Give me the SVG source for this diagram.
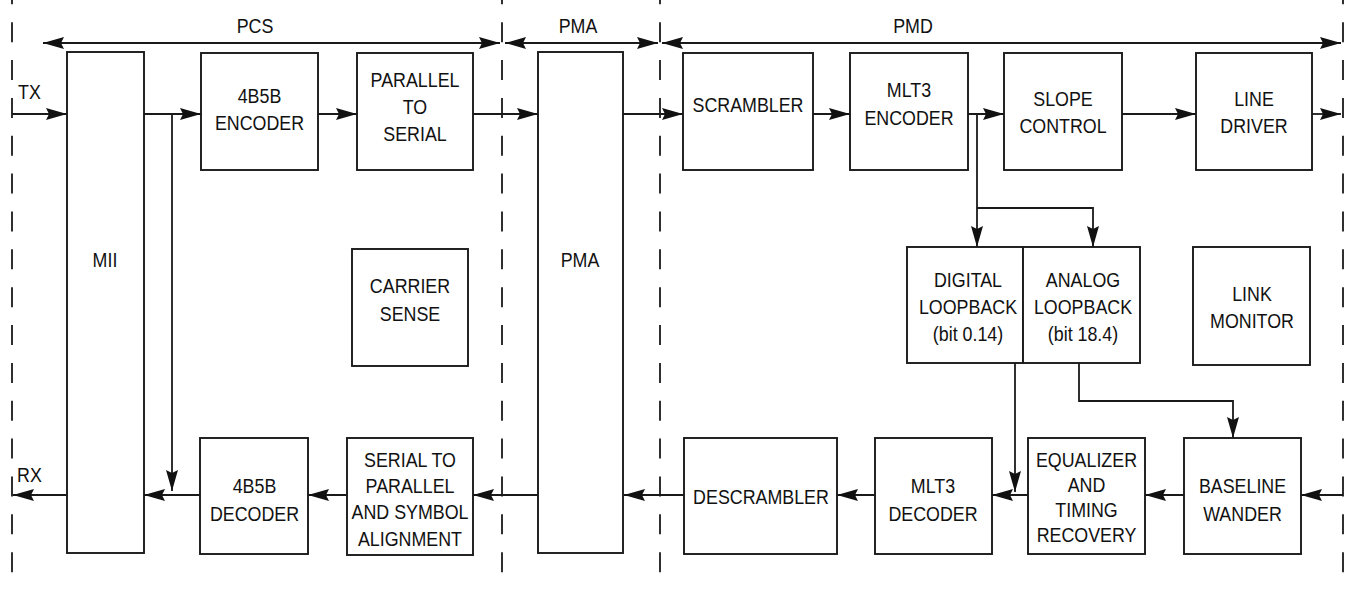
<svg xmlns="http://www.w3.org/2000/svg" width="1345" height="590" viewBox="0 0 1345 590">
<defs>
<style>
.bx{fill:#fff;stroke:#1a1a1a;stroke-width:1.9}
.cn{fill:none;stroke:#1a1a1a;stroke-width:1.8}
.ds{fill:none;stroke:#1a1a1a;stroke-width:1.8;stroke-dasharray:20 17.86;stroke-dashoffset:15.7}
.t{font-family:"Liberation Sans",Arial,sans-serif;font-size:21px;fill:#111;text-anchor:middle}
.ts{font-family:"Liberation Sans",Arial,sans-serif;font-size:21px;fill:#111;text-anchor:start}
</style>
<marker id="ah" viewBox="0 0 21 12" markerWidth="21" markerHeight="12" refX="21" refY="6" orient="auto-start-reverse" markerUnits="userSpaceOnUse">
<path d="M0,0 L21,6 L0,12 L3,6 z" fill="#111"/>
</marker>
</defs>
<rect width="1345" height="590" fill="#fff"/>

<g id="boundaries">
<line class="ds" x1="12" y1="0" x2="12" y2="590"/>
<line class="ds" x1="502" y1="0" x2="502" y2="590"/>
<line class="ds" x1="660" y1="0" x2="660" y2="590"/>
<line class="ds" x1="1343" y1="0" x2="1343" y2="590"/>
</g>

<g id="labels">
<text class="t" transform="translate(255 0) scale(0.85 1)"><tspan x="0" y="33">PCS</tspan></text>
<text class="t" transform="translate(578 0) scale(0.85 1)"><tspan x="0" y="33">PMA</tspan></text>
<text class="t" transform="translate(913 0) scale(0.85 1)"><tspan x="0" y="33">PMD</tspan></text>
<text class="ts" transform="translate(18 0) scale(0.85 1)"><tspan x="0" y="99">TX</tspan></text>
<text class="ts" transform="translate(17 0) scale(0.85 1)"><tspan x="0" y="482">RX</tspan></text>
</g>

<g id="connectors">
<line class="cn" x1="43" y1="43" x2="500" y2="43" marker-start="url(#ah)" marker-end="url(#ah)"/>
<line class="cn" x1="505" y1="43" x2="658" y2="43" marker-start="url(#ah)" marker-end="url(#ah)"/>
<line class="cn" x1="662" y1="43" x2="1341" y2="43" marker-start="url(#ah)" marker-end="url(#ah)"/>
<path class="cn" d="M12,114 H67" marker-end="url(#ah)"/>
<path class="cn" d="M144,114 H201" marker-end="url(#ah)"/>
<path class="cn" d="M172,114 V491" marker-end="url(#ah)"/>
<path class="cn" d="M318,114 H357" marker-end="url(#ah)"/>
<path class="cn" d="M473,114 H538" marker-end="url(#ah)"/>
<path class="cn" d="M623,114 H683" marker-end="url(#ah)"/>
<path class="cn" d="M813,114 H850" marker-end="url(#ah)"/>
<path class="cn" d="M968,114 H1004" marker-end="url(#ah)"/>
<path class="cn" d="M977,114 V247" marker-end="url(#ah)"/>
<path class="cn" d="M977,208 H1093 V247" marker-end="url(#ah)"/>
<path class="cn" d="M1122,114 H1196" marker-end="url(#ah)"/>
<path class="cn" d="M1312,114 H1341" marker-end="url(#ah)"/>
<path class="cn" d="M1343,495 H1301" marker-end="url(#ah)"/>
<path class="cn" d="M1184,495 H1145" marker-end="url(#ah)"/>
<path class="cn" d="M1028,495 H992" marker-end="url(#ah)"/>
<path class="cn" d="M1015,363 V492" marker-end="url(#ah)"/>
<path class="cn" d="M1079,363 V401 H1233 V438" marker-end="url(#ah)"/>
<path class="cn" d="M875,495 H837" marker-end="url(#ah)"/>
<path class="cn" d="M684,495 H624" marker-end="url(#ah)"/>
<path class="cn" d="M538,495 H473" marker-end="url(#ah)"/>
<path class="cn" d="M347,495 H308" marker-end="url(#ah)"/>
<path class="cn" d="M201,495 H144" marker-end="url(#ah)"/>
<path class="cn" d="M67,495 H13" marker-end="url(#ah)"/>
</g>

<g id="mii">
<rect class="bx" x="67" y="52" width="77" height="501"/>
<text class="t" transform="translate(105 0) scale(0.85 1)"><tspan x="0" y="267">MII</tspan></text>
</g>
<g id="enc4b5b">
<rect class="bx" x="201" y="53" width="117" height="117"/>
<text class="t" transform="translate(259.5 0) scale(0.85 1)"><tspan x="0" y="103">4B5B</tspan><tspan x="0" y="130">ENCODER</tspan></text>
</g>
<g id="p2s">
<rect class="bx" x="357" y="53" width="116" height="117"/>
<text class="t" transform="translate(415 0) scale(0.85 1)"><tspan x="0" y="87">PARALLEL</tspan><tspan x="0" y="114">TO</tspan><tspan x="0" y="141">SERIAL</tspan></text>
</g>
<g id="carrier">
<rect class="bx" x="352" y="249" width="116" height="117"/>
<text class="t" transform="translate(410 0) scale(0.85 1)"><tspan x="0" y="293">CARRIER</tspan><tspan x="0" y="321">SENSE</tspan></text>
</g>
<g id="pma">
<rect class="bx" x="538" y="52" width="85" height="501"/>
<text class="t" transform="translate(580 0) scale(0.85 1)"><tspan x="0" y="267">PMA</tspan></text>
</g>
<g id="scrambler">
<rect class="bx" x="683" y="53" width="130" height="117"/>
<text class="t" transform="translate(748 0) scale(0.85 1)"><tspan x="0" y="112">SCRAMBLER</tspan></text>
</g>
<g id="mlt3enc">
<rect class="bx" x="850" y="53" width="118" height="117"/>
<text class="t" transform="translate(909 0) scale(0.85 1)"><tspan x="0" y="97">MLT3</tspan><tspan x="0" y="125">ENCODER</tspan></text>
</g>
<g id="slope">
<rect class="bx" x="1004" y="53" width="118" height="117"/>
<text class="t" transform="translate(1063 0) scale(0.85 1)"><tspan x="0" y="106">SLOPE</tspan><tspan x="0" y="133">CONTROL</tspan></text>
</g>
<g id="linedriver">
<rect class="bx" x="1196" y="53" width="116" height="117"/>
<text class="t" transform="translate(1254 0) scale(0.85 1)"><tspan x="0" y="106">LINE</tspan><tspan x="0" y="133">DRIVER</tspan></text>
</g>
<g id="digloop">
<rect class="bx" x="907" y="247" width="116" height="116"/>
<text class="t" transform="translate(968 0) scale(0.85 1)"><tspan x="0" y="287">DIGITAL</tspan><tspan x="0" y="314">LOOPBACK</tspan><tspan x="0" y="341">(bit 0.14)</tspan></text>
</g>
<g id="anaLoop">
<rect class="bx" x="1023" y="247" width="117" height="116"/>
<text class="t" transform="translate(1083 0) scale(0.85 1)"><tspan x="0" y="287">ANALOG</tspan><tspan x="0" y="314">LOOPBACK</tspan><tspan x="0" y="341">(bit 18.4)</tspan></text>
</g>
<g id="linkmon">
<rect class="bx" x="1193" y="247" width="117" height="118"/>
<text class="t" transform="translate(1252 0) scale(0.85 1)"><tspan x="0" y="301">LINK</tspan><tspan x="0" y="328">MONITOR</tspan></text>
</g>
<g id="dec4b5b">
<rect class="bx" x="200" y="438" width="108" height="116"/>
<text class="t" transform="translate(254.5 0) scale(0.85 1)"><tspan x="0" y="493">4B5B</tspan><tspan x="0" y="521">DECODER</tspan></text>
</g>
<g id="s2p">
<rect class="bx" x="347" y="438" width="126" height="117"/>
<text class="t" transform="translate(410 0) scale(0.85 1)"><tspan x="0" y="467">SERIAL TO</tspan><tspan x="0" y="493">PARALLEL</tspan><tspan x="0" y="519">AND SYMBOL</tspan><tspan x="0" y="546">ALIGNMENT</tspan></text>
</g>
<g id="descrambler">
<rect class="bx" x="684" y="438" width="153" height="116"/>
<text class="t" transform="translate(761 0) scale(0.85 1)"><tspan x="0" y="504">DESCRAMBLER</tspan></text>
</g>
<g id="mlt3dec">
<rect class="bx" x="875" y="438" width="117" height="116"/>
<text class="t" transform="translate(933 0) scale(0.85 1)"><tspan x="0" y="493">MLT3</tspan><tspan x="0" y="521">DECODER</tspan></text>
</g>
<g id="equalizer">
<rect class="bx" x="1028" y="438" width="117" height="116"/>
<text class="t" transform="translate(1086.5 0) scale(0.85 1)"><tspan x="0" y="467">EQUALIZER</tspan><tspan x="0" y="492">AND</tspan><tspan x="0" y="517">TIMING</tspan><tspan x="0" y="542">RECOVERY</tspan></text>
</g>
<g id="baseline">
<rect class="bx" x="1184" y="438" width="117" height="116"/>
<text class="t" transform="translate(1242.5 0) scale(0.85 1)"><tspan x="0" y="493">BASELINE</tspan><tspan x="0" y="521">WANDER</tspan></text>
</g>
</svg>
